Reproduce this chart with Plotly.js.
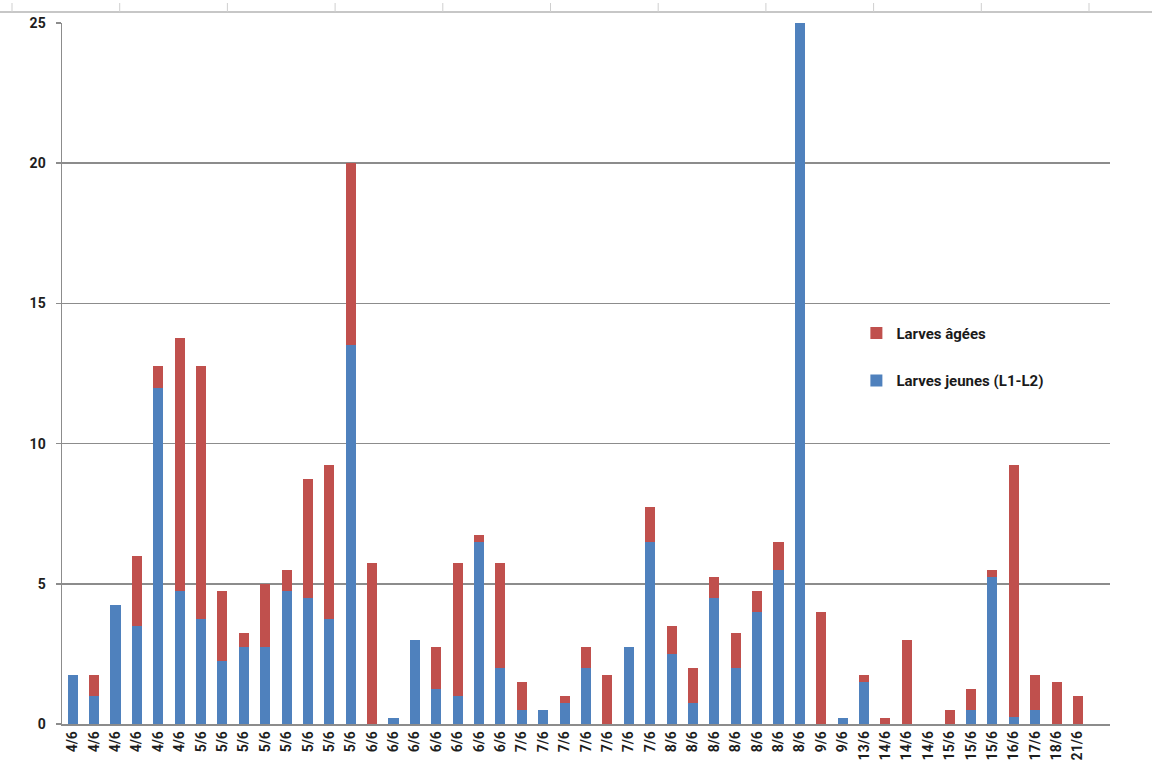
<!DOCTYPE html>
<html>
<head>
<meta charset="utf-8">
<script src="https://cdn.plot.ly/plotly-3.0.1.min.js"></script>
<style>
  html, body { margin: 0; padding: 0; background: #ffffff; }
  #chart { width: 1152px; height: 771px; }
</style>
</head>
<body>
<div id="chart"></div>
<script>
// Date labels of each sampling (x axis), in order
const dateLabels = [
  "4/6","4/6","4/6","4/6","4/6","4/6",
  "5/6","5/6","5/6","5/6","5/6","5/6","5/6","5/6",
  "6/6","6/6","6/6","6/6","6/6","6/6","6/6",
  "7/6","7/6","7/6","7/6","7/6","7/6","7/6",
  "8/6","8/6","8/6","8/6","8/6","8/6","8/6",
  "9/6","9/6","13/6","14/6","14/6","14/6",
  "15/6","15/6","15/6","16/6","17/6","18/6","21/6"
];

// Young larvae (L1-L2) — bottom segment
const larvesJeunes = [
  1.75, 1, 4.25, 3.5, 12, 4.75,
  3.75, 2.25, 2.75, 2.75, 4.75, 4.5, 3.75, 13.5,
  0, 0.2, 3, 1.25, 1, 6.5, 2,
  0.5, 0.5, 0.75, 2, 0, 2.75, 6.5,
  2.5, 0.75, 4.5, 2, 4, 5.5, 25,
  0, 0.2, 1.5, 0, 0, 0,
  0, 0.5, 5.25, 0.25, 0.5, 0, 0
];

// Older larvae — top segment
const larvesAgees = [
  0, 0.75, 0, 2.5, 0.75, 9,
  9, 2.5, 0.5, 2.25, 0.75, 4.25, 5.5, 6.5,
  5.75, 0, 0, 1.5, 4.75, 0.25, 3.75,
  1, 0, 0.25, 0.75, 1.75, 0, 1.25,
  1, 1.25, 0.75, 1.25, 0.75, 1, 0,
  4, 0, 0.25, 0.2, 3, 0,
  0.5, 0.75, 0.25, 9, 1.25, 1.5, 1
];

const yTicks = [0, 5, 10, 15, 20, 25];

const positions = dateLabels.map((_, i) => i);

const traces = [
  {
    type: "bar",
    name: "Larves jeunes (L1-L2)",
    x: positions,
    y: larvesJeunes,
    marker: { color: "#4F81BD" },
    legendgroup: "a",
    legendrank: 2,
    hoverinfo: "skip"
  },
  {
    type: "bar",
    name: "Larves âgées",
    x: positions,
    y: larvesAgees,
    marker: { color: "#C0504D" },
    legendgroup: "b",
    legendrank: 1,
    hoverinfo: "skip"
  }
];

// Decorative ruler line at the very top (spreadsheet artefact)
const W = 1152, H = 771, ml = 62, mr = 42, mt = 23, mb = 47;
const pw = W - ml - mr, ph = H - mt - mb;
const px2x = p => (p - ml) / pw;
const px2y = p => (H - mb - p) / ph;
const shapes = [{
  type: "line", xref: "paper", yref: "paper",
  x0: px2x(0), x1: px2x(1152), y0: px2y(12), y1: px2y(12),
  line: { color: "#b5b5b5", width: 1.5 }
}];
for (let k = 0; k < 11; k++) {
  const xp = 12 + k * 107.7;
  shapes.push({
    type: "line", xref: "paper", yref: "paper",
    x0: px2x(xp), x1: px2x(xp), y0: px2y(3), y1: px2y(12),
    line: { color: "#cfcfcf", width: 1 }
  });
}

const layout = {
  width: W,
  height: H,
  margin: { l: ml, r: mr, t: mt, b: mb, pad: 0 },
  paper_bgcolor: "#ffffff",
  plot_bgcolor: "#ffffff",
  barmode: "stack",
  bargap: 0.53,
  showlegend: true,
  legend: {
    x: 0.758,
    y: 0.581,
    xanchor: "left",
    yanchor: "top",
    traceorder: "grouped",
    tracegroupgap: 25,
    itemwidth: 30,
    bgcolor: "rgba(0,0,0,0)",
    font: { family: "Roboto, 'Liberation Sans', sans-serif", size: 15, color: "#1a1a1a", weight: "bold" }
  },
  xaxis: {
    type: "linear",
    range: [-0.5, 48.5],
    tickmode: "array",
    tickvals: positions,
    ticktext: dateLabels,
    tickangle: -90,
    ticks: "",
    showgrid: false,
    zeroline: false,
    showline: true,
    linecolor: "#8c8c8c",
    linewidth: 1.5,
    automargin: false,
    tickfont: { family: "Roboto, 'Liberation Sans', sans-serif", size: 14, color: "#1e1e1e", weight: "bold" }
  },
  yaxis: {
    range: [0, 25],
    tickmode: "array",
    tickvals: yTicks,
    ticktext: yTicks.map(String),
    ticks: "outside",
    ticklen: 5,
    tickcolor: "#8c8c8c",
    tickwidth: 1.5,
    ticklabelstandoff: 7,
    showgrid: true,
    gridcolor: "#8c8c8c",
    gridwidth: 1.5,
    zeroline: false,
    showline: true,
    linecolor: "#8c8c8c",
    linewidth: 1.5,
    automargin: false,
    tickfont: { family: "Roboto, 'Liberation Sans', sans-serif", size: 14, color: "#1e1e1e", weight: "bold" }
  },
  shapes: shapes
};

Plotly.newPlot("chart", traces, layout, { displayModeBar: false, staticPlot: true });
</script>
</body>
</html>
